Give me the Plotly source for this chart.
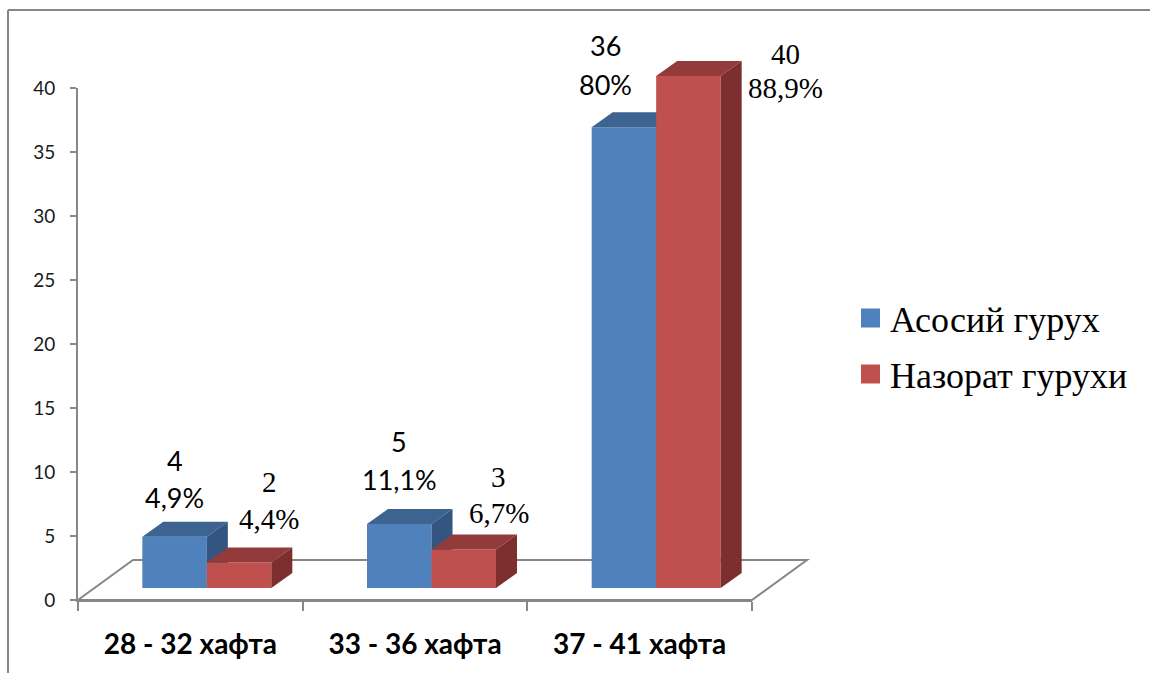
import plotly.graph_objects as go

# ---- data ----
categories = ["28 - 32 хафта", "33 - 36 хафта", "37 - 41 хафта"]
series_names = ["Асосий гурух", "Назорат гурухи"]
main_values = [4, 5, 36]
control_values = [2, 3, 40]
main_pct = ["4,9%", "11,1%", "80%"]
control_pct = ["4,4%", "6,7%", "88,9%"]
y_ticks = [0, 5, 10, 15, 20, 25, 30, 35, 40]

# ---- layout geometry (pixels) ----
W, H = 1150, 675
AX_LEFT, AX_RIGHT = 78, 752      # x pixels of the category axis ends
AX_Y0, AX_YTOP = 600, 88         # y pixels of value 0 and value 40
Y_MAX = 40
KX = (AX_RIGHT - AX_LEFT) / len(categories)   # px per category
KY = (AX_Y0 - AX_YTOP) / Y_MAX                # px per value unit

# 3-D look: bars sit a little behind the front edge of the floor
FRONT_DX, FRONT_DY = 16.5 / KX, 12 / KY
DEPTH_DX, DEPTH_DY = 21 / KX, 15 / KY
BAR_W = 64.5 / KX
FLOOR_DX, FLOOR_DY = 55 / KX, 40 / KY

colors = {
    "main": {"front": "#4F81BD", "top": "#3D6391", "side": "#33557F"},
    "control": {"front": "#C0504D", "top": "#923B3A", "side": "#7C2F2E"},
}

SANS = "Lato, 'Open Sans', sans-serif"
SERIF = "Liberation Serif"

fig = go.Figure()

# anchor trace for the visible category / value axes
fig.add_trace(go.Scatter(x=categories, y=[0] * len(categories), mode="markers",
                         marker=dict(opacity=0), showlegend=False, hoverinfo="skip",
                         xaxis="x", yaxis="y"))


def add_series(values, key, left_side, xa, ya):
    c = colors[key]
    xs_right = []
    for i in range(len(values)):
        xr = i + FRONT_DX if left_side else i + FRONT_DX + BAR_W
        xs_right.append(xr)
    # front faces
    fig.add_trace(go.Bar(
        x=[i + FRONT_DX for i in range(len(values))], y=values, base=FRONT_DY,
        width=BAR_W, offset=-BAR_W if left_side else 0,
        marker=dict(color=c["front"], line=dict(width=0)),
        showlegend=False, hoverinfo="skip", xaxis=xa, yaxis=ya))
    # top and side faces
    top_x, top_y, side_x, side_y = [], [], [], []
    for i, v in enumerate(values):
        x1 = xs_right[i]
        x0 = x1 - BAR_W
        t = FRONT_DY + v
        top_x += [x0, x1, x1 + DEPTH_DX, x0 + DEPTH_DX, x0, None]
        top_y += [t, t, t + DEPTH_DY, t + DEPTH_DY, t, None]
        side_x += [x1, x1, x1 + DEPTH_DX, x1 + DEPTH_DX, x1, None]
        side_y += [FRONT_DY, t, t + DEPTH_DY, FRONT_DY + DEPTH_DY, FRONT_DY, None]
    fig.add_trace(go.Scatter(x=top_x, y=top_y, mode="lines", fill="toself",
                             fillcolor=c["top"], line=dict(width=0, color=c["top"]),
                             showlegend=False, hoverinfo="skip", xaxis=xa, yaxis=ya))
    fig.add_trace(go.Scatter(x=side_x, y=side_y, mode="lines", fill="toself",
                             fillcolor=c["side"], line=dict(width=0, color=c["side"]),
                             showlegend=False, hoverinfo="skip", xaxis=xa, yaxis=ya))


add_series(main_values, "main", True, "x2", "y2")
add_series(control_values, "control", False, "x3", "y3")

# ranges of the full-page drawing axes share the pixel scale of the value axis
x_full = [-0.5 - AX_LEFT / KX, -0.5 + (W - AX_LEFT) / KX]
y_full = [-(H - AX_Y0) / KY, AX_Y0 / KY]

AXIS_GRAY = "#878787"

fig.update_layout(
    width=W, height=H, margin=dict(l=0, r=0, t=0, b=0, autoexpand=False),
    paper_bgcolor="white", plot_bgcolor="rgba(0,0,0,0)",
    showlegend=False, barmode="overlay",
    xaxis=dict(type="category", categoryorder="array", categoryarray=categories,
               range=[-0.5, len(categories) - 0.5], automargin=False,
               domain=[AX_LEFT / W, AX_RIGHT / W], anchor="y",
               tickson="boundaries", ticks="outside", ticklen=9, tickwidth=2,
               tickcolor=AXIS_GRAY, showline=True, linecolor=AXIS_GRAY, linewidth=2,
               showgrid=False, zeroline=False, ticklabelstandoff=18,
               tickfont=dict(family=SANS, size=28, color="black", weight="bold")),
    yaxis=dict(range=[0, Y_MAX], domain=[(H - AX_Y0) / H, (H - AX_YTOP) / H],
               anchor="x", tickvals=y_ticks, ticks="outside", ticklen=6, tickwidth=2,
               tickcolor=AXIS_GRAY, showline=True, linecolor=AXIS_GRAY, linewidth=2,
               showgrid=False, zeroline=False, ticklabelstandoff=11, automargin=False,
               tickfont=dict(family=SANS, size=19, color="#1a1a1a")),
    xaxis2=dict(range=x_full, domain=[0, 1], anchor="y2", visible=False, automargin=False),
    yaxis2=dict(range=y_full, domain=[0, 1], anchor="x2", visible=False, automargin=False),
    xaxis3=dict(range=x_full, domain=[0, 1], anchor="y3", overlaying="x2", visible=False,
                automargin=False),
    yaxis3=dict(range=y_full, domain=[0, 1], anchor="x3", overlaying="y2", visible=False,
                automargin=False),
)

# floor outline behind the bars
n = len(categories)
fl = [(-0.5, 0), (n - 0.5, 0), (n - 0.5 + FLOOR_DX, FLOOR_DY), (-0.5 + FLOOR_DX, FLOOR_DY)]
path = "M " + " L ".join(f"{x},{y}" for x, y in fl) + " Z"
fig.add_shape(type="path", path=path, xref="x2", yref="y2", layer="below",
              line=dict(color=AXIS_GRAY, width=2), fillcolor="rgba(0,0,0,0)")

# chart frame (top and left edges)
fig.add_shape(type="line", xref="paper", yref="paper", x0=8 / W, x1=1, y0=1 - 10 / H, y1=1 - 10 / H,
              line=dict(color=AXIS_GRAY, width=2))
fig.add_shape(type="line", xref="paper", yref="paper", x0=8 / W, x1=8 / W, y0=1 - 10 / H, y1=1 - 673 / H,
              line=dict(color=AXIS_GRAY, width=2))

# data labels: value on the first line, share on the second
main_offsets = [(0, -76, -39), (0, -83, -45), (-18, -82, -43)]
control_offsets = [(30, -80, -43), (35, -73, -37), (97, -22, 12)]

for i, v in enumerate(main_values):
    cx = i + FRONT_DX - BAR_W / 2
    dx, d1, d2 = main_offsets[i]
    for txt, dy in ((str(v), d1), (main_pct[i], d2)):
        fig.add_annotation(x=cx, y=FRONT_DY + v, xref="x2", yref="y2", text=txt,
                           showarrow=False, xanchor="center", yanchor="middle",
                           xshift=dx, yshift=-dy,
                           font=dict(family=SANS, size=27, color="black"))

for i, v in enumerate(control_values):
    cx = i + FRONT_DX + BAR_W / 2
    dx, d1, d2 = control_offsets[i]
    for txt, dy in ((str(v), d1), (control_pct[i], d2)):
        fig.add_annotation(x=cx, y=FRONT_DY + v, xref="x2", yref="y2", text=txt,
                           showarrow=False, xanchor="center", yanchor="middle",
                           xshift=dx, yshift=-dy,
                           font=dict(family=SERIF, size=29, color="black"))

# legend
legend_rows = [318, 374]
for name, key, yc in zip(series_names, ["main", "control"], legend_rows):
    fig.add_shape(type="rect", xref="paper", yref="paper",
                  x0=861 / W, x1=880 / W, y0=1 - (yc + 9.5) / H, y1=1 - (yc - 9.5) / H,
                  fillcolor=colors[key]["front"], line=dict(width=0))
    fig.add_annotation(x=888 / W, y=1 - (yc + 2) / H, xref="paper", yref="paper",
                       text=name, showarrow=False, xanchor="left", yanchor="middle",
                       font=dict(family=SERIF, size=36, color="black"))

fig.write_html("out.html")
